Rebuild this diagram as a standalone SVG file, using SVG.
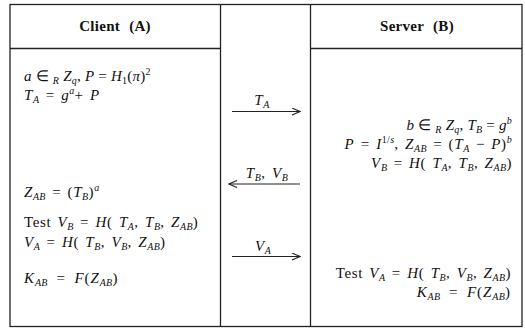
<svg xmlns="http://www.w3.org/2000/svg" width="525" height="328" viewBox="0 0 525 328">
<style>
.t{font-family:"Liberation Serif","Times New Roman",serif;font-size:15px;fill:#111;letter-spacing:0.6px;word-spacing:2px}
.n{letter-spacing:0.2px;word-spacing:0}
.w{word-spacing:4px;letter-spacing:0.9px}
.h{font-family:"Liberation Serif","Times New Roman",serif;font-size:15px;font-weight:bold;fill:#111;word-spacing:5px;letter-spacing:0.3px}
.i{font-style:italic}
.s{font-size:10px;letter-spacing:0.3px}
.ln{stroke:#222;stroke-width:1.3;fill:none}
.ar{stroke:#222;stroke-width:1.1;fill:none}
</style>
<defs>
<marker id="ah" markerWidth="10" markerHeight="8" refX="9" refY="4" orient="auto" markerUnits="userSpaceOnUse">
<path d="M1,0.5 L9,4 L1,7.5" fill="none" stroke="#222" stroke-width="1.1"/>
</marker>
</defs>
<rect x="0" y="0" width="525" height="328" fill="#fff"/>
<g id="frame">
<rect class="ln" x="10" y="4.5" width="512" height="322"/>
<line class="ln" x1="220.5" y1="4.5" x2="220.5" y2="326.5"/>
<line class="ln" x1="310.5" y1="4.5" x2="310.5" y2="326.5"/>
<line class="ln" x1="10" y1="48.5" x2="220.5" y2="48.5"/>
<line class="ln" x1="310.5" y1="48.5" x2="522" y2="48.5"/>
</g>
<g id="client">
<text class="h" x="115" y="31" text-anchor="middle">Client (A)</text>
<text class="t n" x="24" y="81"><tspan class="i">a</tspan> ∈ <tspan class="s i" dy="3">R</tspan><tspan dy="-3"> </tspan><tspan class="i">Z</tspan><tspan class="s i" dy="3">q</tspan><tspan dy="-3">, </tspan><tspan class="i">P</tspan> = <tspan class="i">H</tspan><tspan class="s" dy="3">1</tspan><tspan dy="-3">(</tspan><tspan class="i">π</tspan>)<tspan class="s" dy="-6">2</tspan></text>
<text class="t" x="24" y="100"><tspan class="i">T</tspan><tspan class="s i" dy="3">A</tspan><tspan dy="-3"> = </tspan><tspan class="i">g</tspan><tspan class="s i" dy="-6">a</tspan><tspan dy="6">+ </tspan><tspan class="i">P</tspan></text>
<text class="t" x="24" y="197"><tspan class="i">Z</tspan><tspan class="s i" dy="3">AB</tspan><tspan dy="-3"> = (</tspan><tspan class="i">T</tspan><tspan class="s i" dy="3">B</tspan><tspan dy="-3">)</tspan><tspan class="s i" dy="-6">a</tspan></text>
<text class="t" x="24" y="227">Test <tspan class="i">V</tspan><tspan class="s i" dy="3">B</tspan><tspan dy="-3"> = </tspan><tspan class="i">H</tspan>( <tspan class="i">T</tspan><tspan class="s i" dy="3">A</tspan><tspan dy="-3">, </tspan><tspan class="i">T</tspan><tspan class="s i" dy="3">B</tspan><tspan dy="-3">, </tspan><tspan class="i">Z</tspan><tspan class="s i" dy="3">AB</tspan><tspan dy="-3">)</tspan></text>
<text class="t" x="24" y="247"><tspan class="i">V</tspan><tspan class="s i" dy="3">A</tspan><tspan dy="-3"> = </tspan><tspan class="i">H</tspan>( <tspan class="i">T</tspan><tspan class="s i" dy="3">B</tspan><tspan dy="-3">, </tspan><tspan class="i">V</tspan><tspan class="s i" dy="3">B</tspan><tspan dy="-3">, </tspan><tspan class="i">Z</tspan><tspan class="s i" dy="3">AB</tspan><tspan dy="-3">)</tspan></text>
<text class="t w" x="24" y="283"><tspan class="i">K</tspan><tspan class="s i" dy="3">AB</tspan><tspan dy="-3"> = </tspan><tspan class="i">F</tspan>(<tspan class="i">Z</tspan><tspan class="s i" dy="3">AB</tspan><tspan dy="-3">)</tspan></text>
</g>
<g id="server">
<text class="h" x="417" y="31" text-anchor="middle">Server (B)</text>
<text class="t n" x="512" y="130" text-anchor="end"><tspan class="i">b</tspan> ∈ <tspan class="s i" dy="3">R</tspan><tspan dy="-3"> </tspan><tspan class="i">Z</tspan><tspan class="s i" dy="3">q</tspan><tspan dy="-3">, </tspan><tspan class="i">T</tspan><tspan class="s i" dy="3">B</tspan><tspan dy="-3"> = </tspan><tspan class="i">g</tspan><tspan class="s i" dy="-6">b</tspan></text>
<text class="t" x="512" y="149" text-anchor="end"><tspan class="i">P</tspan> = <tspan class="i">I</tspan><tspan class="s" dy="-6">1/</tspan><tspan class="s i">s</tspan><tspan dy="6">, </tspan><tspan class="i">Z</tspan><tspan class="s i" dy="3">AB</tspan><tspan dy="-3"> = (</tspan><tspan class="i">T</tspan><tspan class="s i" dy="3">A</tspan><tspan dy="-3"> − </tspan><tspan class="i">P</tspan>)<tspan class="s i" dy="-6">b</tspan></text>
<text class="t" x="512" y="168" text-anchor="end"><tspan class="i">V</tspan><tspan class="s i" dy="3">B</tspan><tspan dy="-3"> = </tspan><tspan class="i">H</tspan>( <tspan class="i">T</tspan><tspan class="s i" dy="3">A</tspan><tspan dy="-3">, </tspan><tspan class="i">T</tspan><tspan class="s i" dy="3">B</tspan><tspan dy="-3">, </tspan><tspan class="i">Z</tspan><tspan class="s i" dy="3">AB</tspan><tspan dy="-3">)</tspan></text>
<text class="t" x="511" y="278" text-anchor="end">Test <tspan class="i">V</tspan><tspan class="s i" dy="3">A</tspan><tspan dy="-3"> = </tspan><tspan class="i">H</tspan>( <tspan class="i">T</tspan><tspan class="s i" dy="3">B</tspan><tspan dy="-3">, </tspan><tspan class="i">V</tspan><tspan class="s i" dy="3">B</tspan><tspan dy="-3">, </tspan><tspan class="i">Z</tspan><tspan class="s i" dy="3">AB</tspan><tspan dy="-3">)</tspan></text>
<text class="t w" x="511" y="297" text-anchor="end"><tspan class="i">K</tspan><tspan class="s i" dy="3">AB</tspan><tspan dy="-3"> = </tspan><tspan class="i">F</tspan>(<tspan class="i">Z</tspan><tspan class="s i" dy="3">AB</tspan><tspan dy="-3">)</tspan></text>
</g>
<g id="connectors">
<line class="ar" x1="232" y1="111.5" x2="300" y2="111.5" marker-end="url(#ah)"/>
<text class="t" x="262" y="105" text-anchor="middle"><tspan class="i">T</tspan><tspan class="s i" dy="3">A</tspan></text>
<line class="ar" x1="300" y1="184" x2="229" y2="184" marker-end="url(#ah)"/>
<text class="t" x="267" y="178" text-anchor="middle"><tspan class="i">T</tspan><tspan class="s i" dy="3">B</tspan><tspan dy="-3">, </tspan><tspan class="i">V</tspan><tspan class="s i" dy="3">B</tspan></text>
<line class="ar" x1="232" y1="256.5" x2="300" y2="256.5" marker-end="url(#ah)"/>
<text class="t" x="263" y="251" text-anchor="middle"><tspan class="i">V</tspan><tspan class="s i" dy="3">A</tspan></text>
</g>
</svg>
